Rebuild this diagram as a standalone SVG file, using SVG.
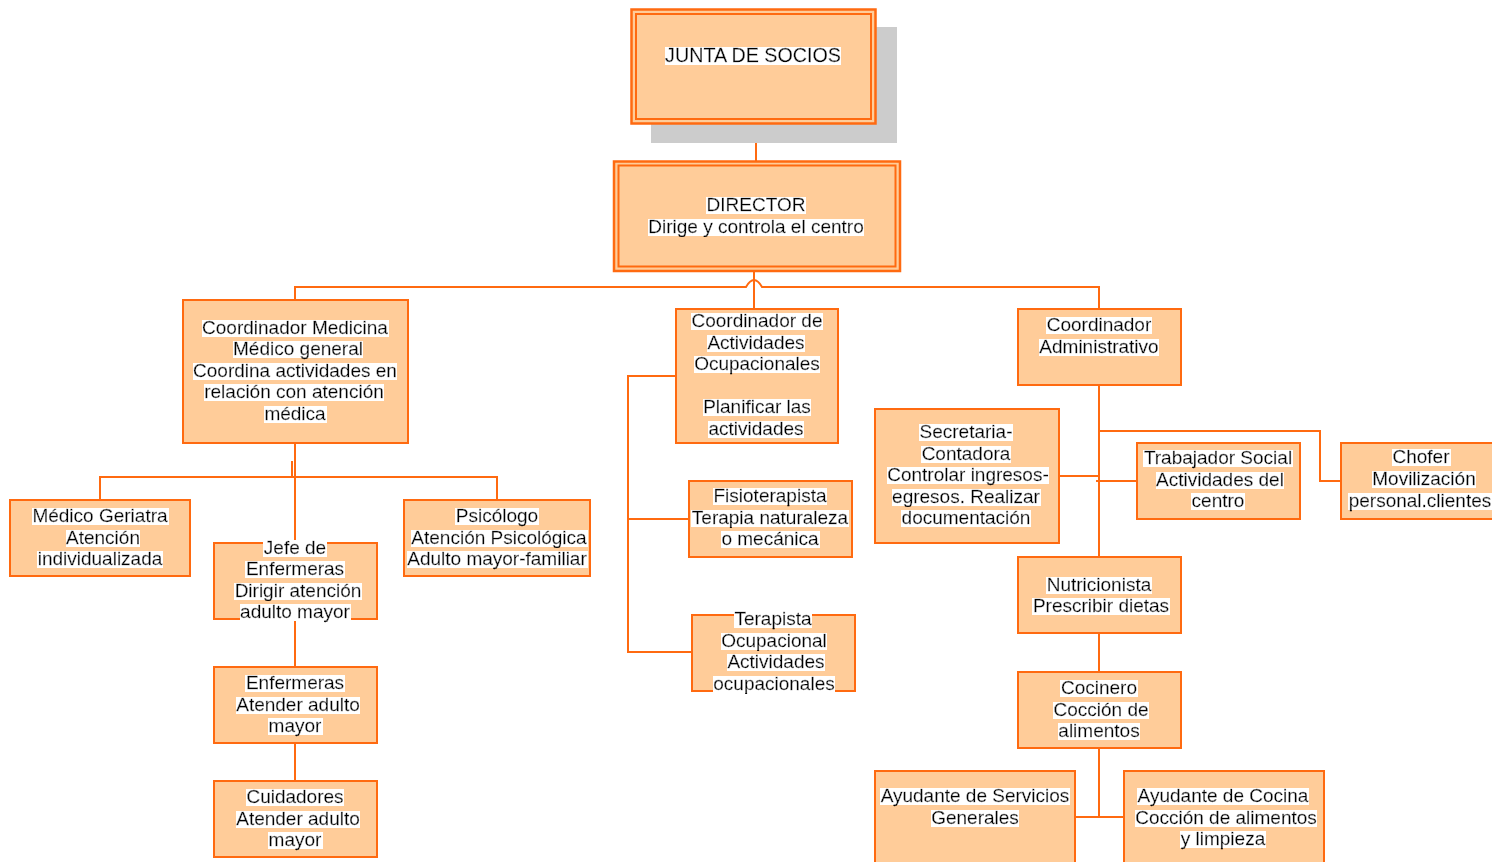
<svg xmlns="http://www.w3.org/2000/svg" width="1492" height="862" viewBox="0 0 1492 862">
  <style>
    .box{fill:#FFCC99;stroke:#FF6A10;stroke-width:2}
    .outer{fill:#FFCC99;stroke:#FF6A10;stroke-width:2.5}
    .inner{fill:none;stroke:#FF6A10;stroke-width:2}
    .shadow{fill:#CCCCCC}
    .wire{fill:none;stroke:#FF6A10;stroke-width:2}
    text{font-family:"Liberation Sans",Arial,Helvetica,sans-serif;font-size:19px;text-anchor:middle;fill:#000;stroke:#000;stroke-width:0.3px;filter:url(#hl)}
    .big{font-size:19.7px}
  </style>
  <defs>
    <!-- white highlight band behind each text line -->
    <filter id="hl" primitiveUnits="objectBoundingBox" x="-0.02" y="-0.2" width="1.04" height="1.4">
      <feFlood flood-color="#FFFFFF" x="0" y="0.17" width="1" height="0.77" result="bg"/>
      <feMerge>
        <feMergeNode in="bg"/>
        <feMergeNode in="SourceGraphic"/>
      </feMerge>
    </filter>
  </defs>
  <rect width="1492" height="862" fill="#FFFFFF"/>

  <g id="connectors">
    <path class="wire" d="M753,124 V142 H756 V162"/>
    <path class="wire" d="M754,271 V309"/>
    <path class="wire" d="M295,300 V287 H746 Q754,273 762,287 H1099 V309"/>
    <path class="wire" d="M295,443 V543"/>
    <path class="wire" d="M100,500 V477 H497 V500"/>
    <path class="wire" d="M292,461 V477"/>
    <path class="wire" d="M295,619 V667"/>
    <path class="wire" d="M295,743 V781"/>
    <path class="wire" d="M676,376 H628 V652 H692"/>
    <path class="wire" d="M628,519 H689"/>
    <path class="wire" d="M1099,385 V557"/>
    <path class="wire" d="M1099,431 H1320 V481 H1341"/>
    <path class="wire" d="M1059,476 H1099"/>
    <path class="wire" d="M1096,481 H1137"/>
    <path class="wire" d="M1099,633 V672"/>
    <path class="wire" d="M1099,748 V817"/>
    <path class="wire" d="M1075,817 H1124"/>
  </g>

  <g id="junta">
    <rect class="shadow" x="651" y="27" width="246" height="116"/>
    <rect class="outer" x="631.5" y="9.5" width="244" height="114"/>
    <rect class="inner" x="636" y="14" width="235" height="105"/>
    <text class="big" x="753" y="62">JUNTA DE SOCIOS</text>
  </g>

  <g id="director">
    <rect class="outer" x="614" y="161.5" width="286" height="109.5"/>
    <rect class="inner" x="618.5" y="165.5" width="277" height="101"/>
    <text x="756" y="211">DIRECTOR</text>
    <text x="756" y="232.5">Dirige y controla el centro</text>
  </g>

  <g id="coord-medicina">
    <rect class="box" x="183" y="300" width="225" height="143"/>
    <text x="295" y="333.5">Coordinador Medicina</text>
    <text x="298" y="355">Médico general</text>
    <text x="295" y="376.5">Coordina actividades en</text>
    <text x="294" y="398">relación con atención</text>
    <text x="295" y="419.5">médica</text>
  </g>

  <g id="medico-geriatra">
    <rect class="box" x="10" y="500" width="180" height="76"/>
    <text x="100" y="522">Médico Geriatra</text>
    <text x="103" y="543.5">Atención</text>
    <text x="100" y="565">individualizada</text>
  </g>

  <g id="psicologo">
    <rect class="box" x="404" y="500" width="186" height="76"/>
    <text x="497" y="522">Psicólogo</text>
    <text x="499" y="543.5">Atención Psicológica</text>
    <text x="497" y="565">Adulto mayor-familiar</text>
  </g>

  <g id="jefe-enfermeras">
    <rect class="box" x="214" y="543" width="163" height="76"/>
    <text x="295" y="553.5">Jefe de</text>
    <text x="295" y="575">Enfermeras</text>
    <text x="298" y="596.5">Dirigir atención</text>
    <text x="295" y="618">adulto mayor</text>
  </g>

  <g id="enfermeras">
    <rect class="box" x="214" y="667" width="163" height="76"/>
    <text x="295" y="689">Enfermeras</text>
    <text x="298" y="710.5">Atender adulto</text>
    <text x="295" y="732">mayor</text>
  </g>

  <g id="cuidadores">
    <rect class="box" x="214" y="781" width="163" height="76"/>
    <text x="295" y="803">Cuidadores</text>
    <text x="298" y="824.5">Atender adulto</text>
    <text x="295" y="846">mayor</text>
  </g>

  <g id="coord-actividades">
    <rect class="box" x="676" y="309" width="162" height="134"/>
    <text x="757" y="327">Coordinador de</text>
    <text x="756" y="348.5">Actividades</text>
    <text x="757" y="370">Ocupacionales</text>
    <text x="757" y="413">Planificar las</text>
    <text x="756" y="434.5">actividades</text>
  </g>

  <g id="fisioterapista">
    <rect class="box" x="689" y="481" width="163" height="76"/>
    <text x="770" y="502">Fisioterapista</text>
    <text x="770" y="523.5">Terapia naturaleza</text>
    <text x="770" y="545">o mecánica</text>
  </g>

  <g id="terapista-ocupacional">
    <rect class="box" x="692" y="615" width="163" height="76"/>
    <text x="773" y="625">Terapista</text>
    <text x="774" y="646.5">Ocupacional</text>
    <text x="776" y="668">Actividades</text>
    <text x="774" y="689.5">ocupacionales</text>
  </g>

  <g id="coord-administrativo">
    <rect class="box" x="1018" y="309" width="163" height="76"/>
    <text x="1099" y="331">Coordinador</text>
    <text x="1099" y="352.5">Administrativo</text>
  </g>

  <g id="secretaria">
    <rect class="box" x="875" y="409" width="184" height="134"/>
    <text x="966" y="438">Secretaria-</text>
    <text x="966" y="459.5">Contadora</text>
    <text x="968" y="481">Controlar ingresos-</text>
    <text x="966" y="502.5">egresos. Realizar</text>
    <text x="966" y="524">documentación</text>
  </g>

  <g id="trabajador-social">
    <rect class="box" x="1137" y="443" width="163" height="76"/>
    <text x="1218" y="464">Trabajador Social</text>
    <text x="1220" y="485.5">Actividades del</text>
    <text x="1218" y="507">centro</text>
  </g>

  <g id="chofer">
    <rect class="box" x="1341" y="443" width="163" height="76"/>
    <text x="1421" y="463">Chofer</text>
    <text x="1424" y="485">Movilización</text>
    <text x="1420" y="507">personal.clientes</text>
  </g>

  <g id="nutricionista">
    <rect class="box" x="1018" y="557" width="163" height="76"/>
    <text x="1099" y="590.5">Nutricionista</text>
    <text x="1101" y="612">Prescribir dietas</text>
  </g>

  <g id="cocinero">
    <rect class="box" x="1018" y="672" width="163" height="76"/>
    <text x="1099" y="694">Cocinero</text>
    <text x="1101" y="715.5">Cocción de</text>
    <text x="1099" y="737">alimentos</text>
  </g>

  <g id="ayudante-servicios">
    <rect class="box" x="875" y="771" width="200" height="100"/>
    <text x="975" y="802">Ayudante de Servicios</text>
    <text x="975" y="823.5">Generales</text>
  </g>

  <g id="ayudante-cocina">
    <rect class="box" x="1124" y="771" width="200" height="100"/>
    <text x="1223" y="802">Ayudante de Cocina</text>
    <text x="1226" y="823.5">Cocción de alimentos</text>
    <text x="1223" y="845">y limpieza</text>
  </g>
</svg>
